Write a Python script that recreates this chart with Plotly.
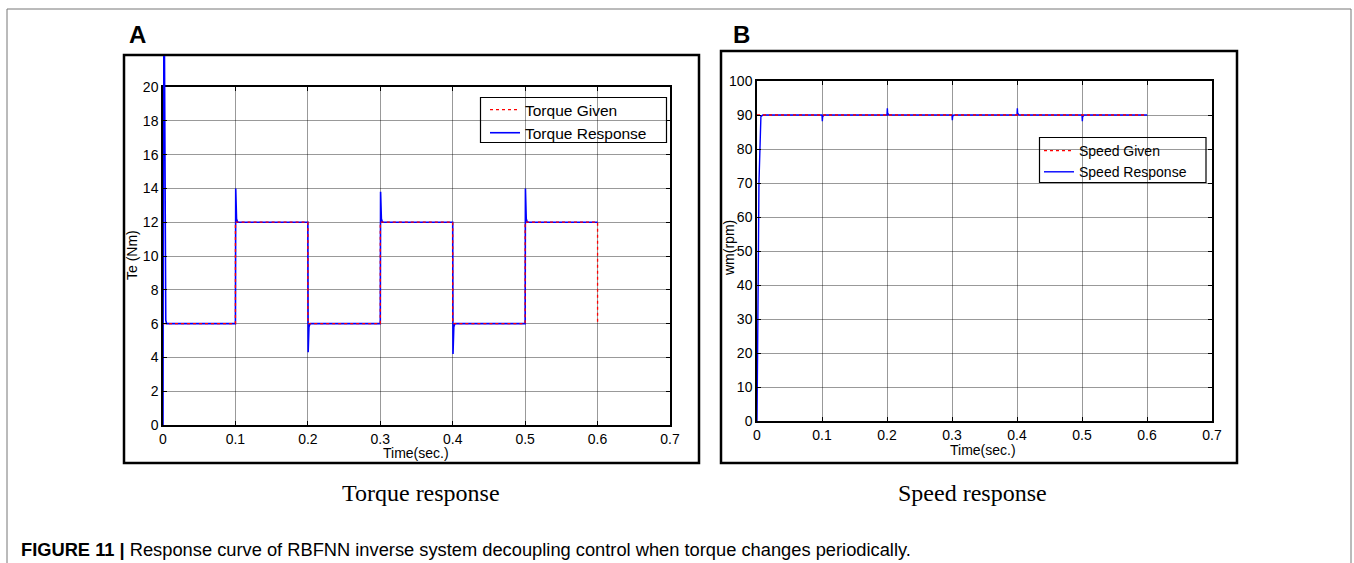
import plotly.graph_objects as go

W, H = 1354, 563

# ---------------- data ----------------
x_ticks = [0, 0.1, 0.2, 0.3, 0.4, 0.5, 0.6, 0.7]
x_tick_labels = ["0", "0.1", "0.2", "0.3", "0.4", "0.5", "0.6", "0.7"]
torque_ticks = [0, 2, 4, 6, 8, 10, 12, 14, 16, 18, 20]
speed_ticks = [0, 10, 20, 30, 40, 50, 60, 70, 80, 90, 100]

torque_given_t = [0, 0.1, 0.1, 0.2, 0.2, 0.3, 0.3, 0.4, 0.4, 0.5, 0.5, 0.6, 0.6]
torque_given = [6, 6, 12, 12, 6, 6, 12, 12, 6, 6, 12, 12, 6]

torque_resp_t = [0, 0.0003, 0.0008, 0.0018, 0.0024, 0.003, 0.0038, 0.005,
                 0.1, 0.1004, 0.1008, 0.1015, 0.103,
                 0.2, 0.2004, 0.2008, 0.2015, 0.203,
                 0.3, 0.3004, 0.3008, 0.3015, 0.303,
                 0.4, 0.4004, 0.4008, 0.4015, 0.403,
                 0.5, 0.5004, 0.5008, 0.5015, 0.503, 0.6]
torque_resp = [0, 10, 25, 24, 13, 8.2, 6.2, 6,
               6, 14, 12.6, 12.2, 12,
               12, 4.3, 5.4, 5.8, 6,
               6, 13.8, 12.5, 12.2, 12,
               12, 4.2, 5.4, 5.8, 6,
               6, 14, 12.6, 12.2, 12, 12]

speed_given_t = [0, 0.6]
speed_given = [90, 90]

speed_resp_t = [0, 0.001, 0.002, 0.003, 0.004, 0.005, 0.006, 0.009,
                0.1, 0.1005, 0.101, 0.103,
                0.2, 0.2005, 0.201, 0.203,
                0.3, 0.3005, 0.301, 0.303,
                0.4, 0.4005, 0.401, 0.403,
                0.5, 0.5005, 0.501, 0.503, 0.6]
speed_resp = [0, 15, 45, 70, 80, 86, 89.5, 90,
              90, 88.2, 89.5, 90,
              90, 92, 90.5, 90,
              90, 88.5, 89.6, 90,
              90, 92, 90.5, 90,
              90, 88.2, 89.5, 90, 90]

# ---------------- helpers ----------------
def px(x):
    return x / W

def py(y):
    return 1 - y / H

FONT = "Liberation Sans, Arial, sans-serif"
SERIF = "Liberation Serif, Times New Roman, serif"
BLUE = "#0000ff"
RED = "#ff0000"
GRID = "rgba(0,0,0,0.4)"

fig = go.Figure()

fig.add_trace(go.Scatter(x=torque_resp_t, y=torque_resp, mode="lines", name="Torque Response",
                         line=dict(color=BLUE, width=1.6), xaxis="x", yaxis="y",
                         legend="legend", legendrank=2))
fig.add_trace(go.Scatter(x=torque_given_t, y=torque_given, mode="lines", name="Torque Given",
                         line=dict(color=RED, width=1.3, dash="dot"), xaxis="x", yaxis="y",
                         legend="legend", legendrank=1))
fig.add_trace(go.Scatter(x=torque_resp_t, y=torque_resp, mode="lines", showlegend=False,
                         line=dict(color=BLUE, width=1.6), xaxis="x3", yaxis="y3"))

fig.add_trace(go.Scatter(x=speed_resp_t, y=speed_resp, mode="lines", name="Speed Response",
                         line=dict(color=BLUE, width=1.4), xaxis="x2", yaxis="y2",
                         legend="legend2", legendrank=2))
fig.add_trace(go.Scatter(x=speed_given_t, y=speed_given, mode="lines", name="Speed Given",
                         line=dict(color=RED, width=1.3, dash="dot"), xaxis="x2", yaxis="y2",
                         legend="legend2", legendrank=1))

axis_common = dict(showline=True, linecolor="black", linewidth=1.5, mirror="ticks",
                   ticks="inside", ticklen=4, tickcolor="black", showgrid=True,
                   gridcolor=GRID, gridwidth=1, zeroline=False,
                   tickfont=dict(family=FONT, size=14, color="black"))

fig.update_layout(
    autosize=True, margin=dict(l=0, r=0, t=0, b=0, autoexpand=False),
    paper_bgcolor="white", plot_bgcolor="white",
    showlegend=True,
    xaxis=dict(domain=[px(163), px(670)], range=[0, 0.7], tickvals=x_ticks,
               ticktext=x_tick_labels, anchor="y", **axis_common),
    yaxis=dict(domain=[py(425), py(87)], range=[0, 20], tickvals=torque_ticks,
               anchor="x", **axis_common),
    xaxis3=dict(domain=[px(163), px(670)], range=[0, 0.7], visible=False, anchor="y3"),
    yaxis3=dict(domain=[py(87), py(56)], range=[20, 21.83], visible=False, anchor="x3"),
    xaxis2=dict(domain=[px(757), px(1212)], range=[0, 0.7], tickvals=x_ticks,
                ticktext=x_tick_labels, anchor="y2", **axis_common),
    yaxis2=dict(domain=[py(421), py(81)], range=[0, 100], tickvals=speed_ticks,
                anchor="x2", **axis_common),
    legend=dict(x=px(485), y=py(93), xanchor="left", yanchor="top",
                bgcolor="rgba(0,0,0,0)", borderwidth=0,
                font=dict(family=FONT, size=15.5, color="black"),
                tracegroupgap=0, itemwidth=30),
    legend2=dict(x=px(1039), y=py(135), xanchor="left", yanchor="top",
                 bgcolor="rgba(0,0,0,0)", borderwidth=0,
                 font=dict(family=FONT, size=14, color="black"),
                 tracegroupgap=0, itemwidth=30),
)

shapes = [
    dict(type="rect", xref="paper", yref="paper", x0=px(7), y0=py(575), x1=px(1351), y1=py(9),
         line=dict(color="#777777", width=1), layer="below"),
    dict(type="rect", xref="paper", yref="paper", x0=px(124), y0=py(463), x1=px(699), y1=py(55),
         line=dict(color="black", width=2.5), layer="below"),
    dict(type="rect", xref="paper", yref="paper", x0=px(721), y0=py(463), x1=px(1237), y1=py(51),
         line=dict(color="black", width=2.5), layer="below"),
    # legend frames (transparent, grid shows through as in the original)
    dict(type="rect", xref="paper", yref="paper", x0=px(480.5), y0=py(142.5), x1=px(666.5), y1=py(97.5),
         line=dict(color="black", width=1.2), layer="above"),
    dict(type="rect", xref="paper", yref="paper", x0=px(1039.5), y0=py(182.5), x1=px(1206), y1=py(137.5),
         line=dict(color="black", width=1.2), layer="above"),
]
fig.update_layout(shapes=shapes)

ann = []
def text(x, y, s, size, family=FONT, xanchor="center", textangle=0, yanchor="middle"):
    ann.append(dict(x=px(x), y=py(y), xref="paper", yref="paper", text=s, showarrow=False,
                    xanchor=xanchor, yanchor=yanchor, textangle=textangle,
                    font=dict(family=family, size=size, color="black")))

text(127, 35, "<b>A</b>", 24, xanchor="left")
text(731, 35, "<b>B</b>", 24, xanchor="left")
text(416, 453, "Time(sec.)", 14)
text(983, 450, "Time(sec.)", 14)
text(132, 255, "Te (Nm)", 14, textangle=-90)
text(729, 248, "wm(rpm)", 14, textangle=-90)
text(421, 493, "Torque response", 24, family=SERIF)
text(972, 493, "Speed response", 24, family=SERIF)
text(19, 549, "<b>FIGURE 11 |</b> Response curve of RBFNN inverse system decoupling control when torque changes periodically.",
     18.3, xanchor="left")
fig.update_layout(annotations=ann)

fig.write_html("out.html", config={"displayModeBar": False, "responsive": True},
               default_width="100vw", default_height="100vh",
               post_script="document.body.style.margin='0px';document.body.style.overflow='hidden';window.dispatchEvent(new Event('resize'));")
